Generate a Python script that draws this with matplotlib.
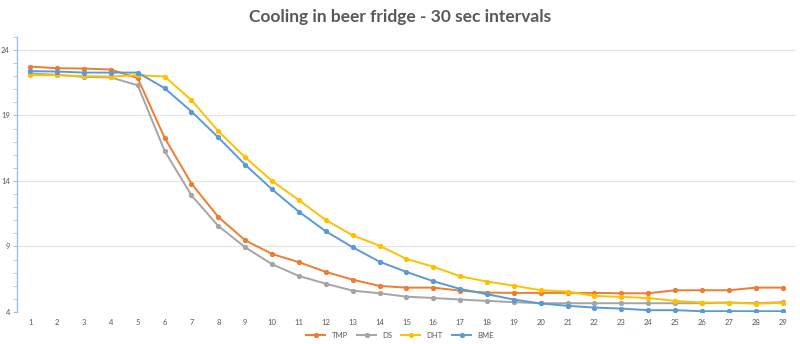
import matplotlib
matplotlib.use("Agg")
import matplotlib.pyplot as plt
from matplotlib.ticker import MultipleLocator

plt.rcParams["font.family"] = ["Lato", "DejaVu Sans"]

samples = list(range(1, 30))
tmp = [22.73, 22.6, 22.58, 22.5, 21.85, 17.3, 13.8, 11.25, 9.47, 8.43, 7.8, 7.06, 6.47, 5.99,
       5.86, 5.86, 5.63, 5.48, 5.46, 5.46, 5.46, 5.46, 5.43, 5.43, 5.66, 5.66, 5.66, 5.86, 5.86]
ds = [22.2, 22.1, 21.94, 21.9, 21.3, 16.3, 12.9, 10.56, 8.94, 7.64, 6.75, 6.16, 5.63, 5.43,
      5.17, 5.07, 4.95, 4.85, 4.75, 4.67, 4.67, 4.67, 4.67, 4.67, 4.67, 4.67, 4.72, 4.67, 4.75]
dht = [22.07, 22.07, 22.0, 21.97, 22.07, 21.97, 20.17, 17.8, 15.8, 14.0, 12.54, 11.02, 9.85, 9.06,
       8.05, 7.46, 6.73, 6.32, 6.01, 5.66, 5.56, 5.23, 5.15, 5.07, 4.85, 4.72, 4.72, 4.64, 4.7]
bme = [22.38, 22.35, 22.27, 22.27, 22.27, 21.08, 19.3, 17.32, 15.24, 13.36, 11.65, 10.16, 8.94, 7.84,
       7.06, 6.35, 5.76, 5.36, 4.95, 4.65, 4.47, 4.34, 4.26, 4.14, 4.14, 4.06, 4.06, 4.06, 4.06]

series = [("TMP", tmp, "#ED7D31"), ("DS", ds, "#A5A5A5"),
          ("DHT", dht, "#FFC000"), ("BME", bme, "#5B9BD5")]

fig = plt.figure(figsize=(8, 3.44), dpi=100)
ax = fig.add_axes([0.021, 0.093, 0.974, 0.8])

for name, vals, col in series:
    ax.plot(samples, vals, color=col, lw=1.4, marker="o", ms=2.8, label=name)

ax.set_xlim(0.5, 29.5)
ax.set_ylim(4, 25)
ax.yaxis.set_minor_locator(MultipleLocator(1))
ax.set_yticks([4, 9, 14, 19, 24])
ax.set_xticks(samples)
ax.grid(axis="y", which="major", color="#E3E3E3", lw=0.8)
ax.set_axisbelow(True)
for s in ["top", "right", "bottom"]:
    ax.spines[s].set_visible(False)
ax.spines["left"].set_color("#9DC3E6")
ax.spines["left"].set_linewidth(1.0)
ax.tick_params(axis="y", which="both", length=3, color="#9DC3E6", labelsize=5.5,
               labelcolor="#595959", pad=2)
ax.tick_params(axis="x", length=0, labelsize=5.5, labelcolor="#595959", pad=5)

fig.suptitle("Cooling in beer fridge - 30 sec intervals", fontsize=12.5,
             fontweight="bold", color="#595959", y=0.975)
fig.legend(loc="lower center", ncol=4, frameon=False, fontsize=5.5,
           bbox_to_anchor=(0.5, -0.005), handlelength=2.5, columnspacing=1.2,
           labelcolor="#595959")

fig.savefig("out.png", dpi=100)
